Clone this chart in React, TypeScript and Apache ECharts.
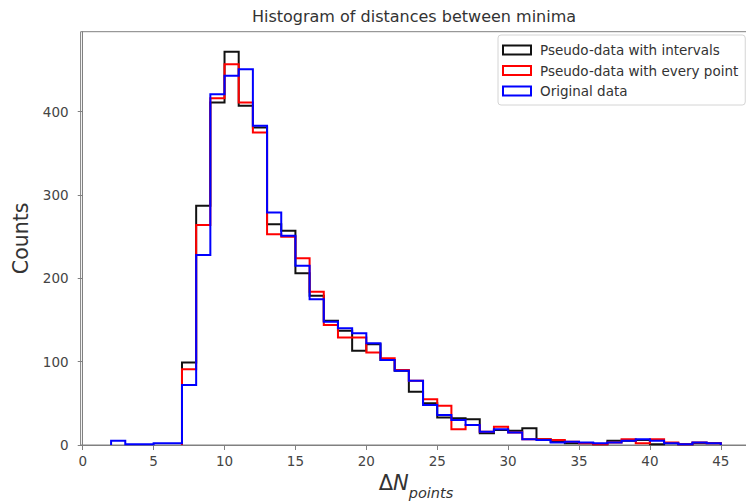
import React, { useEffect, useRef } from 'react';
import * as echarts from 'echarts';

// Histogram bins have width 1; each list starts at its first bin's left edge.
const binWidth = 1;
const xTicks = [0, 5, 10, 15, 20, 25, 30, 35, 40, 45];
const yTicks = [0, 100, 200, 300, 400];

const intervalsStart = 7;
const intervalsCounts = [
  99, 287, 411, 472, 407, 381, 265, 257, 206, 179, 149, 137, 113, 121, 102,
  89, 64, 50, 33, 32, 31, 14, 18, 17, 20, 7, 4, 2, 2, 1, 5, 5, 6, 1, 2, 1, 2, 2,
];

const everyPointStart = 7;
const everyPointCounts = [
  91, 264, 416, 457, 411, 375, 253, 250, 224, 184, 144, 129, 129, 111, 104,
  90, 77, 55, 47, 19, 24, 16, 22, 15, 7, 7, 6, 4, 2, 1, 3, 7, 2, 7, 3, 1, 3, 2,
];

const originalStart = 2;
const originalCounts = [
  5, 1, 1, 2, 2, 72, 228, 421, 443, 451, 383, 279, 251, 215, 175, 148, 140,
  134, 122, 102, 89, 77, 48, 36, 30, 24, 16, 19, 15, 7, 6, 3, 4, 3, 2, 3, 5, 7,
  5, 2, 1, 3, 2,
];

const seriesNames = [
  'Pseudo-data with intervals',
  'Pseudo-data with every point',
  'Original data',
];
const seriesColors = ['#111111', '#ff0000', '#0000ff'];

function stepData(start: number, counts: number[]) {
  const pts: number[][] = [[start, 0]];
  counts.forEach((c, i) => pts.push([start + i * binWidth, c]));
  pts.push([start + counts.length * binWidth, 0]);
  return pts;
}

const FONT = 'DejaVu Sans';

export default function App() {
  const ref = useRef<HTMLDivElement>(null);
  useEffect(() => {
    if (!ref.current) return;
    const chart = echarts.init(ref.current, undefined, { renderer: 'svg' });
    const datasets = [
      stepData(intervalsStart, intervalsCounts),
      stepData(everyPointStart, everyPointCounts),
      stepData(originalStart, originalCounts),
    ];
    chart.setOption({
      animation: false,
      backgroundColor: '#ffffff',
      textStyle: { fontFamily: FONT },
      grid: {
        left: 80.6,
        right: -5.3,
        top: 31.7,
        bottom: 56,
        show: true,
        borderColor: '#808080',
        borderWidth: 1,
        containLabel: false,
        outerBoundsMode: 'none',
      },
      graphic: [
        {
          type: 'text',
          x: 414,
          y: 16,
          style: {
            text: 'Histogram of distances between minima',
            fontFamily: FONT,
            fontSize: 16,
            fill: '#333333',
            align: 'center',
            verticalAlign: 'middle',
          },
        },
      ],
      legend: {
        orient: 'vertical',
        left: 498,
        top: 35,
        padding: [8, 7, 7, 4],
        itemGap: 6.5,
        itemWidth: 28,
        itemHeight: 9,
        backgroundColor: '#ffffff',
        borderColor: '#d4d4d4',
        borderWidth: 1,
        borderRadius: 3,
        icon: 'rect',
        textStyle: {
          fontFamily: FONT,
          fontSize: 13.5,
          color: '#333333',
          padding: [0, 0, 0, 4],
        },
        data: seriesNames.map((n, i) => ({
          name: n,
          icon: 'rect',
          itemStyle: {
            color: 'rgba(255,255,255,0)',
            borderColor: seriesColors[i],
            borderWidth: 2,
          },
        })),
      },
      xAxis: {
        type: 'value',
        min: -0.15,
        max: 47.15,
        name: '{d|Δ}{n|N}{s|points}',
        nameLocation: 'middle',
        nameGap: 24,
        nameTextStyle: {
          rich: {
            d: { fontFamily: FONT, fontSize: 21, color: '#333333', lineHeight: 26, verticalAlign: 'top' },
            n: { fontFamily: FONT, fontSize: 21, fontStyle: 'italic', color: '#333333', lineHeight: 26, verticalAlign: 'top' },
            s: { fontFamily: FONT, fontSize: 14.5, fontStyle: 'italic', color: '#333333', lineHeight: 15, verticalAlign: 'bottom', padding: [0, 0, -2, 0] },
          },
        },
        axisLine: { show: true, lineStyle: { color: '#808080', width: 1 } },
        axisTick: { show: true, length: 5, inside: false, customValues: xTicks, lineStyle: { color: '#808080' } },
        axisLabel: {
          customValues: xTicks,
          margin: 9,
          fontFamily: FONT,
          fontSize: 13.5,
          color: '#444444',
        },
        splitLine: { show: false },
      },
      yAxis: {
        type: 'value',
        min: 0,
        max: 496,
        name: 'Counts',
        nameLocation: 'middle',
        nameGap: 46,
        nameRotate: 90,
        nameTextStyle: { fontFamily: FONT, fontSize: 20.5, color: '#333333' },
        axisLine: { show: true, lineStyle: { color: '#808080', width: 1 } },
        axisTick: { show: true, length: 5, inside: false, customValues: yTicks, lineStyle: { color: '#808080' } },
        axisLabel: {
          customValues: yTicks,
          margin: 12,
          fontFamily: FONT,
          fontSize: 13.5,
          color: '#444444',
        },
        splitLine: { show: false },
      },
      series: datasets.map((d, i) => ({
        name: seriesNames[i],
        type: 'line',
        step: 'end',
        data: d,
        symbol: 'none',
        showSymbol: false,
        color: seriesColors[i],
        itemStyle: { color: seriesColors[i] },
        lineStyle: { color: seriesColors[i], width: 2, join: 'miter', cap: 'butt' },
        z: 2 + i,
      })),
    });
    return () => chart.dispose();
  }, []);
  return (
    <div
      ref={ref}
      style={{ position: 'absolute', left: 0, top: 0, width: 746, height: 501 }}
    />
  );
}
